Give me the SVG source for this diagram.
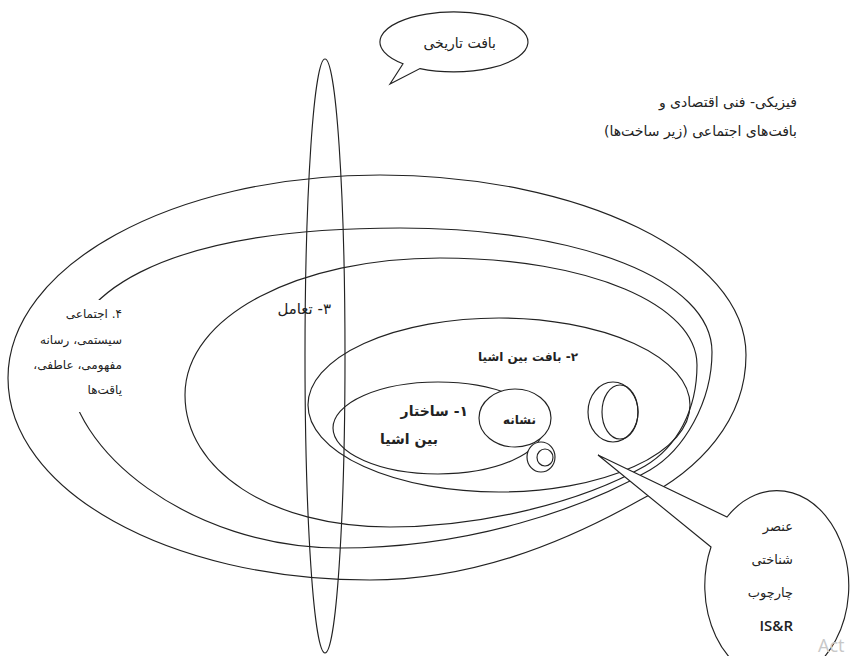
<svg xmlns="http://www.w3.org/2000/svg" width="850" height="656" viewBox="0 0 850 656">
<style>
.s{fill:none;stroke:#222;stroke-width:1.15}
.w{fill:#fff;stroke:#222;stroke-width:1.15}
.t{font-family:"DejaVu Sans",sans-serif;fill:#222;direction:rtl;text-anchor:start}
.b{font-weight:bold}
</style>
<rect width="850" height="656" fill="#fff"/>
<g id="ellipse-outer"><path class="s" d="M8,378 C8,266 172,175 380,175 C580,175 746,255 746,355 C746,420 700,470 640,500 C560,545 470,580 370,580 C168,580 8,490 8,378 Z"/></g>
<g id="ellipse-4"><path class="s" d="M68,365 C68,300 150,228 400,228 C580,228 712,280 712,352 C712,402 684,450 650,470 C585,508 470,548 340,548 C190,548 68,450 68,365 Z"/>
<rect x="50" y="300" width="85" height="112" fill="#fff"/></g>
<g id="ellipse-3"><path class="s" d="M185,395 C185,315 300,258 440,258 C590,258 697,305 697,365 C697,410 677,447 645,466 C580,503 480,527 390,527 C270,527 185,470 185,395 Z"/></g>
<g id="ellipse-2"><ellipse class="s" cx="499" cy="405" rx="191" ry="87"/></g>
<g id="ellipse-1"><ellipse class="s" cx="438" cy="428" rx="105" ry="46"/></g>
<g id="sign"><ellipse class="w" cx="515" cy="418" rx="36" ry="29"/>
<text class="t b" x="536" y="424" font-size="12">نشانه</text></g>
<g id="small-circles"><ellipse class="w" cx="541" cy="457" rx="14" ry="15"/><ellipse class="s" cx="545" cy="457.5" rx="8" ry="8.5"/></g>
<g id="double-ellipse"><ellipse class="w" cx="613" cy="412" rx="25" ry="30"/><ellipse class="s" cx="620" cy="412" rx="18" ry="27"/></g>
<g id="historical"><ellipse class="s" cx="325" cy="356" rx="20" ry="297"/></g>
<g id="bubble-top"><path class="w" d="M403,63.7 A74,30 0 1 1 420,68.6 L390,84 Z"/>
<text class="t" x="496" y="48" font-size="14">بافت تاریخی</text></g>
<g id="bubble-bottom"><path class="w" d="M727,517 A72,95 0 1 1 711,547 L598,455 Z"/>
<text class="t" x="793" y="531" font-size="13">عنصر</text>
<text class="t" x="793" y="564" font-size="13">شناختی</text>
<text class="t" x="793" y="597" font-size="13">چارچوب</text>
<text x="793" y="631" font-size="15" font-weight="600" font-family="Open Sans,sans-serif" fill="#222" text-anchor="end">IS&amp;R</text></g>
<g id="labels">
<text class="t" x="797" y="107" font-size="14">فیزیکی- فنی اقتصادی و</text>
<text class="t" x="797" y="136" font-size="14">بافت‌های اجتماعی (زیر ساخت‌ها)</text>
<text class="t" x="122" y="318" font-size="12">۴. اجتماعی</text>
<text class="t" x="122" y="344" font-size="12">سیستمی، رسانه</text>
<text class="t" x="122" y="369" font-size="12">مفهومی، عاطفی،</text>
<text class="t" x="122" y="394" font-size="12">یاقت‌ها</text>
<text class="t" x="331" y="314" font-size="15">۳- تعامل</text>
<text class="t b" x="578" y="361" font-size="12">۲- بافت بین اشیا</text>
<text class="t b" x="468" y="416" font-size="14">۱-   ساختار</text>
<text class="t b" x="438" y="444" font-size="14">بین اشیا</text>
</g>
<text x="818" y="652" font-size="18" font-family="Open Sans,sans-serif" fill="#c8c8c8">Act</text>
</svg>
